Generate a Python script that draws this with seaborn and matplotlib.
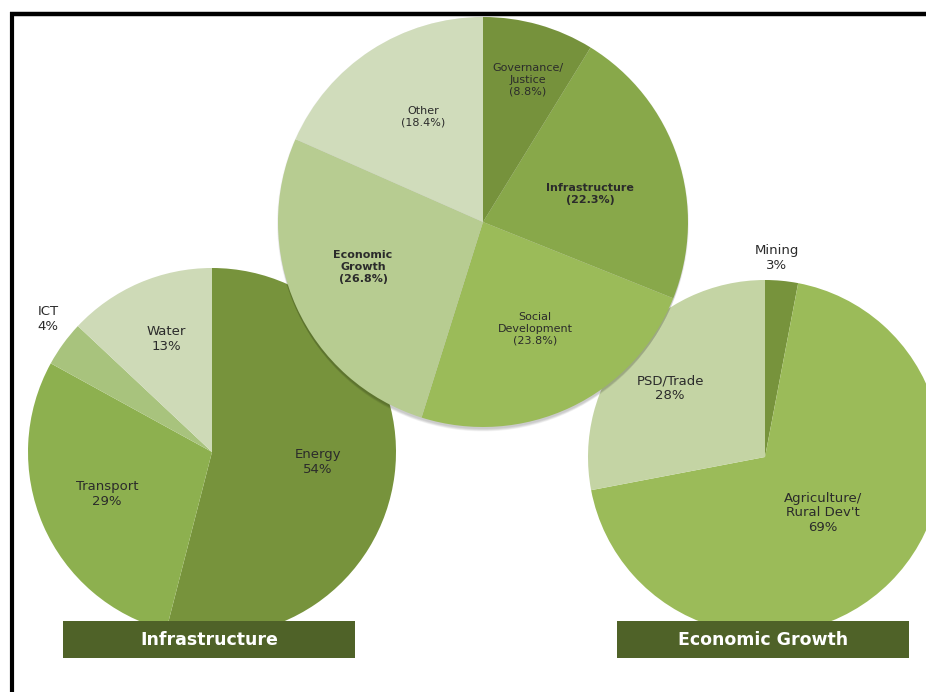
import matplotlib
matplotlib.use("Agg")
import matplotlib.pyplot as plt
from matplotlib.patches import Rectangle, Circle
import seaborn as sns

# ---- data -------------------------------------------------------------
overall_labels = ["Governance/\nJustice\n(8.8%)", "Infrastructure\n(22.3%)",
                  "Social\nDevelopment\n(23.8%)", "Economic\nGrowth\n(26.8%)",
                  "Other\n(18.4%)"]
overall_values = [8.8, 22.3, 23.8, 26.8, 18.4]
overall_bold = [False, True, False, True, False]

infra_labels = ["Energy\n54%", "Transport\n29%", "ICT\n4%", "Water\n13%"]
infra_values = [54, 29, 4, 13]

growth_labels = ["Mining\n3%", "Agriculture/\nRural Dev't\n69%", "PSD/Trade\n28%"]
growth_values = [3, 69, 28]

titles = ["Infrastructure", "Economic Growth"]

# ---- colours ----------------------------------------------------------
sns.set_theme(style="white")
plt.rcParams["font.family"] = ["DejaVu Sans"]

overall_colors = ["#76923c", "#88a84a", "#9bbb59", "#b7cc91", "#d0dcbb"]
infra_colors = ["#77933c", "#8db04f", "#a8c37d", "#cedab7"]
growth_colors = ["#77933c", "#9bbb59", "#c4d4a4"]
box_color = "#4f6228"
text_color = "#2b2b2b"

W, H = 926, 692
fig = plt.figure(figsize=(W / 100, H / 100), dpi=100)
ax = fig.add_axes([0, 0, 1, 1])


def Y(y):
    return H - y


def draw_pie(values, colors, center, radius, z, shadow=False):
    wedges, _ = ax.pie(values, colors=colors, startangle=90, counterclock=False,
                       center=(center[0], Y(center[1])), radius=radius,
                       wedgeprops=dict(linewidth=0), frame=True)
    for w in wedges:
        w.set_zorder(z)
    if shadow:
        # soft drop shadow built from a few stacked translucent discs
        for i in range(6):
            ax.add_patch(Circle((center[0], Y(center[1]) - 1 - i), radius + 1 - 0.5 * i,
                                facecolor="black", alpha=0.035, linewidth=0,
                                zorder=z - 0.5))
    return wedges


# side pies first, central pie above them
draw_pie(infra_values, infra_colors, (212, 452), 184, 2)
draw_pie(growth_values, growth_colors, (765, 457), 177, 2)
draw_pie(overall_values, overall_colors, (483, 222), 205, 4, shadow=True)

ax.set_xlim(0, W)
ax.set_ylim(0, H)
ax.set_aspect("equal")
ax.axis("off")

# ---- slice labels -----------------------------------------------------
overall_pos = [(528, 80), (590, 194), (535, 329), (363, 267), (423, 117)]
for lab, pos, b in zip(overall_labels, overall_pos, overall_bold):
    ax.text(pos[0], Y(pos[1]), lab, ha="center", va="center", fontsize=8,
            fontweight="bold" if b else "normal", color=text_color,
            linespacing=1.2, zorder=6)

infra_pos = [(318, 462), (107, 494), (48, 319), (166, 339)]
for lab, pos in zip(infra_labels, infra_pos):
    ax.text(pos[0], Y(pos[1]), lab, ha="center", va="center", fontsize=9.5,
            color=text_color, linespacing=1.15, zorder=6)

growth_pos = [(777, 258), (823, 513), (670, 388)]
for lab, pos in zip(growth_labels, growth_pos):
    ax.text(pos[0], Y(pos[1]), lab, ha="center", va="center", fontsize=9.5,
            color=text_color, linespacing=1.15, zorder=6)

# ---- title boxes ------------------------------------------------------
for title, (x0, x1) in zip(titles, [(63, 355), (617, 909)]):
    ax.add_patch(Rectangle((x0, Y(658)), x1 - x0, 37, facecolor=box_color,
                           edgecolor="none", zorder=7))
    ax.text((x0 + x1) / 2, Y(640), title, ha="center", va="center",
            fontsize=12.5, fontweight="bold", color="white", zorder=8)

# ---- outer frame (top and left rules) ---------------------------------
ax.plot([10, W], [Y(13.5), Y(13.5)], color="black", linewidth=3.2,
        solid_capstyle="butt", zorder=10)
ax.plot([11.5, 11.5], [Y(12), 0], color="black", linewidth=3.0,
        solid_capstyle="butt", zorder=10)

fig.savefig("out.png", dpi=100)
